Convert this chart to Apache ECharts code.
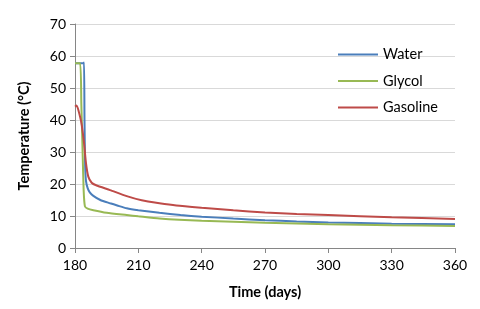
<!DOCTYPE html>
<html><head><meta charset="utf-8">
<script src="https://cdn.jsdelivr.net/npm/echarts@6/dist/echarts.min.js"></script>
<style>html,body{margin:0;padding:0;background:#fff}#c{width:480px;height:309px}</style>
</head><body><div id="c"></div>
<script>
const seriesNames = ["Water", "Glycol", "Gasoline"];
const xTicks = [180, 210, 240, 270, 300, 330, 360];
const yTicks = [0, 10, 20, 30, 40, 50, 60, 70];

const waterDays = [180, 184, 184.3, 184.5, 184.8, 185.2, 186, 187, 188.7, 192, 196.6, 200, 204.5, 210, 220, 230, 240, 255, 270, 285, 300, 330, 360];
const waterTemp = [57.7, 57.7, 58, 40, 26, 21, 18.7, 17.4, 16.3, 15, 14, 13.3, 12.4, 11.8, 11, 10.3, 9.8, 9.2, 8.7, 8.3, 8.0, 7.6, 7.4];

const glycolDays = [180, 182.4, 183, 183.6, 184.1, 184.7, 186, 188.7, 195, 204.5, 210, 220, 240, 270, 300, 330, 360];
const glycolTemp = [57.7, 57.7, 45, 30, 18, 13, 12.3, 11.8, 11, 10.3, 9.9, 9.2, 8.5, 7.9, 7.4, 7.1, 6.9];

const gasolineDays = [180, 180.8, 182.4, 183.2, 184.3, 185.2, 186.3, 187.9, 190, 196.6, 204.5, 211.6, 220, 228, 240, 255, 270, 285, 300, 330, 360];
const gasolineTemp = [44.2, 44.5, 41, 38.4, 32.7, 26.5, 22.3, 20.4, 19.6, 18.1, 16.2, 14.9, 14, 13.3, 12.6, 11.8, 11.1, 10.6, 10.3, 9.6, 9.1];

const colors = ["#4A7EBB", "#98B954", "#BE4B48"];
const pair = (xs, ys) => xs.map((x, i) => [x, ys[i]]);
const allData = [pair(waterDays, waterTemp), pair(glycolDays, glycolTemp), pair(gasolineDays, gasolineTemp)];

const font = "Lato";
const chart = echarts.init(document.getElementById('c'), null, {renderer: 'canvas'});
chart.setOption({
  animation: false,
  color: colors,
  grid: {left: 75, right: 25, top: 24, bottom: 61, containLabel: false},
  legend: {
    orient: 'vertical', left: 333, top: 42,
    itemWidth: 40, itemHeight: 14, itemGap: 11.5,
    textStyle: {fontFamily: font, fontSize: 14.5, color: '#000'},
    data: seriesNames.map(n => ({name: n, icon: 'path://M0,0 L40,0 L40,2 L0,2 Z'}))
  },
  xAxis: {
    type: 'value', min: xTicks[0], max: xTicks[xTicks.length - 1], interval: 30,
    name: 'Time (days)', nameLocation: 'middle', nameGap: 37,
    nameTextStyle: {fontFamily: font, fontSize: 14.5, fontWeight: 'bold', color: '#000'},
    axisLine: {show: true, lineStyle: {color: '#868686', width: 1}},
    axisTick: {show: true, length: 5, lineStyle: {color: '#868686'}},
    axisLabel: {fontFamily: font, fontSize: 14, color: '#000', margin: 10},
    splitLine: {show: false}
  },
  yAxis: {
    type: 'value', min: yTicks[0], max: yTicks[yTicks.length - 1], interval: 10,
    name: 'Temperature (°C)', nameLocation: 'middle', nameGap: 43, nameRotate: 90,
    nameTextStyle: {fontFamily: font, fontSize: 14.5, fontWeight: 'bold', color: '#000'},
    axisLine: {show: true, lineStyle: {color: '#868686', width: 1}},
    axisTick: {show: true, length: 5, lineStyle: {color: '#868686'}},
    axisLabel: {fontFamily: font, fontSize: 14, color: '#000', margin: 9},
    splitLine: {show: true, lineStyle: {color: '#D9D9D9', width: 1}}
  },
  series: seriesNames.map((n, i) => ({
    name: n, type: 'line', data: allData[i], showSymbol: false, symbol: 'none',
    smooth: 0.2,
    lineStyle: {width: 2, color: colors[i]}
  }))
});
</script></body></html>
